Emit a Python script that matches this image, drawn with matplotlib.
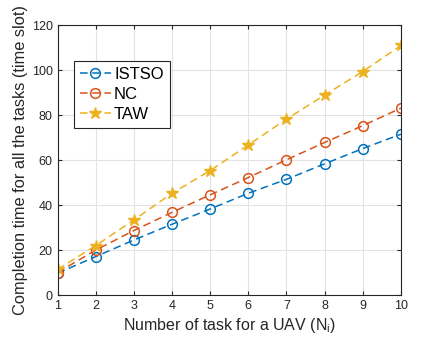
import numpy as np
import matplotlib
matplotlib.use("Agg")
from matplotlib import pyplot as plt

# data
n_tasks = [1, 2, 3, 4, 5, 6, 7, 8, 9, 10]
istso = [9.7, 17.1, 24.5, 31.5, 38.3, 45.3, 51.5, 58.4, 65.2, 71.6]
nc = [10.0, 20.0, 28.7, 36.8, 44.6, 52.3, 60.2, 67.9, 75.4, 83.2]
taw = [11.4, 22.0, 33.4, 45.3, 55.4, 66.8, 78.3, 89.0, 99.5, 111.1]

y_ticks = [0, 20, 40, 60, 80, 100, 120]

plt.rcParams['font.family'] = ['Liberation Sans', 'DejaVu Sans']

fig = plt.figure(figsize=(4.43, 3.44), dpi=100)
ax = fig.add_axes([0.13, 0.1424, 0.775, 0.7836])

dash = (5, 3)
ax.plot(n_tasks, istso, color="#0072BD", linestyle="--", dashes=dash, linewidth=1.1,
        marker="o", markersize=7, markerfacecolor="none", markeredgewidth=1.1, label="ISTSO")
ax.plot(n_tasks, nc, color="#D95319", linestyle="--", dashes=dash, linewidth=1.1,
        marker="o", markersize=7, markerfacecolor="none", markeredgewidth=1.1, label="NC")
ax.plot(n_tasks, taw, color="#EDB120", linestyle="--", dashes=dash, linewidth=1.1,
        marker="*", markersize=9, label="TAW")

ax.set_xlim(1, 10)
ax.set_ylim(0, 120)
ax.set_xticks(n_tasks)
ax.set_yticks(y_ticks)
ax.tick_params(direction="in", labelsize=9, length=3, colors="#262626", top=True, right=True)
for s in ax.spines.values():
    s.set_color("#262626")
    s.set_linewidth(0.8)
ax.grid(True, color="#e3e3e3", linewidth=0.8)
ax.set_axisbelow(True)

ax.set_xlabel("Number of task for a UAV (N$_\\mathregular{i}$)", fontsize=11.5, color="#262626", labelpad=3)
ax.set_ylabel("Completion time for all the tasks (time slot)", fontsize=11.8, color="#262626", labelpad=3)

leg = ax.legend(loc="upper left", bbox_to_anchor=(0.048, 0.868), fontsize=12, fancybox=False,
                framealpha=1, edgecolor="#262626", handlelength=1.85, borderpad=0.35,
                labelspacing=0.3, handletextpad=0.2, borderaxespad=0)
leg.get_frame().set_linewidth(0.8)

plt.savefig("out.png", dpi=100)
